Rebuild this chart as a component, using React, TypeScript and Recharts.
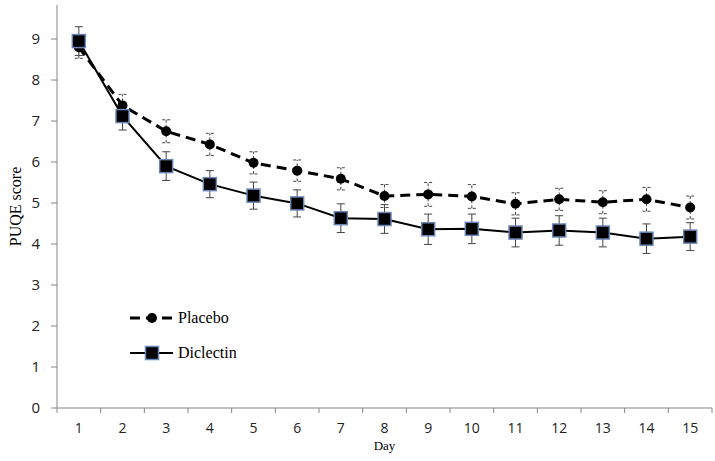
import React from 'react';
import { LineChart, Line, XAxis, YAxis, ErrorBar } from 'recharts';

const days = [1, 2, 3, 4, 5, 6, 7, 8, 9, 10, 11, 12, 13, 14, 15];
const placebo = [8.8, 7.38, 6.75, 6.43, 5.98, 5.79, 5.59, 5.17, 5.21, 5.16, 4.98, 5.09, 5.02, 5.09, 4.89];
const placeboErr = [0.27, 0.27, 0.28, 0.27, 0.27, 0.26, 0.27, 0.28, 0.29, 0.29, 0.27, 0.27, 0.28, 0.29, 0.28];
const diclectin = [8.95, 7.12, 5.9, 5.46, 5.18, 4.99, 4.63, 4.61, 4.36, 4.37, 4.28, 4.33, 4.28, 4.13, 4.18];
const diclectinErr = [0.35, 0.34, 0.35, 0.33, 0.33, 0.33, 0.35, 0.35, 0.37, 0.36, 0.35, 0.36, 0.35, 0.36, 0.34];
const yTicks = [0, 1, 2, 3, 4, 5, 6, 7, 8, 9];
// integer ticks carry labels, half ticks carry the category boundary marks
const xTicks = [0.5, ...days.flatMap(d => [d, d + 0.5])];

const data = days.map((d, i) => ({
  day: d,
  placebo: placebo[i],
  placeboErr: placeboErr[i],
  diclectin: diclectin[i],
  diclectinErr: diclectinErr[i],
}));

const AXIS = '#868686';
const SERIF = "'Liberation Serif', serif";
const SANS = "'Open Sans', sans-serif";

const XTick = (props: any) => {
  const { x, y, payload } = props;
  if (Number.isInteger(payload.value)) {
    return (
      <text x={x} y={y + 25} textAnchor="middle" fontSize={14} fontFamily={SANS} fill="#222">
        {payload.value}
      </text>
    );
  }
  return <line x1={x} x2={x} y1={y} y2={y + 5} stroke={AXIS} strokeWidth={1} />;
};

const SquareDot = (props: any) => {
  const { cx, cy } = props;
  if (cx == null || cy == null) return null;
  return <rect x={cx - 6.5} y={cy - 6.5} width={13} height={13} fill="#000" stroke="#6b85b8" strokeWidth={1.5} />;
};

const LegendBox = () => (
  <svg width={130} height={60} style={{ position: 'absolute', left: 125, top: 306 }}>
    <line x1={5} x2={48} y1={12} y2={12} stroke="#000" strokeWidth={3} strokeDasharray="10 6" />
    <circle cx={27} cy={12} r={5} fill="#000" />
    <text x={53} y={17} fontSize={16} fontFamily={SERIF} fill="#000">Placebo</text>
    <line x1={5} x2={48} y1={47} y2={47} stroke="#000" strokeWidth={2} />
    <rect x={20.5} y={40.5} width={13} height={13} fill="#000" stroke="#6b85b8" strokeWidth={1.5} />
    <text x={53} y={52} fontSize={16} fontFamily={SERIF} fill="#000">Diclectin</text>
  </svg>
);

export default function App() {
  return (
    <div style={{ position: 'absolute', left: 0, top: 0, width: 715, height: 461, background: '#fff' }}>
      <LineChart width={715} height={461} data={data} margin={{ top: 5, right: 3, bottom: 0, left: 0 }}>
        <XAxis
          dataKey="day"
          type="number"
          domain={[0.5, 15.5]}
          ticks={xTicks}
          interval={0}
          tick={<XTick />}
          tickLine={false}
          tickSize={0}
          tickMargin={0}
          height={53}
          stroke={AXIS}
          label={{ value: 'Day', position: 'insideBottom', offset: 11, fontSize: 13, fontFamily: SERIF, fill: '#000' }}
        />
        <YAxis
          type="number"
          domain={[0, 9.83]}
          ticks={yTicks}
          interval={0}
          width={57}
          stroke={AXIS}
          tickSize={6}
          tickMargin={11}
          tick={{ fontSize: 15, fontFamily: SANS, fill: '#222' }}
          label={({ viewBox }: any) => (
            <text
              x={viewBox.x + 15}
              y={viewBox.y + viewBox.height / 2}
              transform={`rotate(-90, ${viewBox.x + 15}, ${viewBox.y + viewBox.height / 2})`}
              textAnchor="middle"
              dominantBaseline="central"
              fontSize={16}
              fontFamily={SERIF}
              fill="#000"
            >
              PUQE score
            </text>
          )}
        />
        <Line
          dataKey="placebo"
          name="Placebo"
          stroke="#000"
          strokeWidth={3}
          strokeDasharray="10 6"
          dot={{ r: 5, fill: '#000', stroke: '#000', strokeWidth: 0 }}
          isAnimationActive={false}
        >
          <ErrorBar dataKey="placeboErr" width={4} stroke="#444" strokeWidth={1} strokeDasharray="3 2" />
        </Line>
        <Line
          dataKey="diclectin"
          name="Diclectin"
          stroke="#000"
          strokeWidth={2}
          dot={<SquareDot />}
          isAnimationActive={false}
        >
          <ErrorBar dataKey="diclectinErr" width={4} stroke="#444" strokeWidth={1} />
        </Line>
      </LineChart>
      <LegendBox />
    </div>
  );
}
